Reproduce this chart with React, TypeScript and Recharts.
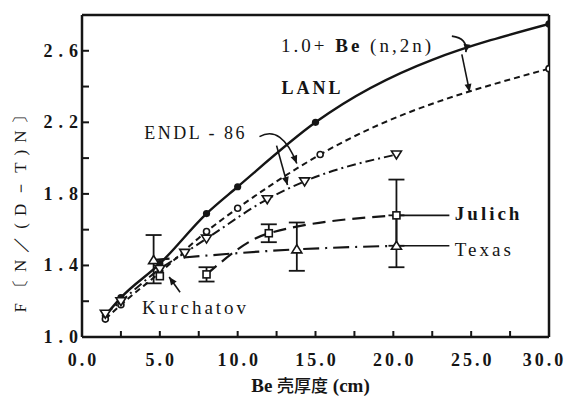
import React from 'react';
import { LineChart, Line, XAxis, YAxis, ErrorBar, ReferenceLine, ReferenceDot } from 'recharts';

// ---- data ----
const lanlX = [1.5, 2.5, 5.0, 8.0, 10.0, 15.0, 30.0];
const lanlY = [1.12, 1.22, 1.41, 1.69, 1.84, 2.2, 2.75];

const endlX = [1.5, 2.5, 5.0, 8.0, 10.0, 15.3, 30.0];
const endlY = [1.1, 1.18, 1.36, 1.59, 1.72, 2.02, 2.5];

const calcX = [1.5, 2.5, 5.0, 6.6, 8.0, 11.9, 14.3, 20.2];
const calcY = [1.13, 1.2, 1.38, 1.47, 1.55, 1.77, 1.87, 2.02];

const julichX = [8.0, 12.0, 20.2];
const julichY = [1.35, 1.58, 1.68];
const julichErr = [[0.04, 0.04], [0.05, 0.05], [0.17, 0.2]];

const texasX = [4.6, 13.8, 20.2];
const texasY = [1.43, 1.49, 1.51];
const texasErr = [[0.13, 0.14], [0.12, 0.15], [0.12, 0.17]];

const kurX = [5.0];
const kurY = [1.34];

const xTicks = [0, 2.5, 5, 7.5, 10, 12.5, 15, 17.5, 20, 22.5, 25, 27.5, 30];
const xLabels = [0, 5, 10, 15, 20, 25, 30];
const yTicks = [1.0, 1.2, 1.4, 1.6, 1.8, 2.0, 2.2, 2.4, 2.6, 2.8];
const yLabels = [1.0, 1.4, 1.8, 2.2, 2.6];

const xTitleLatin = 'Be ';
const xTitleCJK = '壳厚度';
const xTitleUnit = ' (cm)';
const yTitle = 'F〔N／(D－T)N〕';

const mk = (xs: number[], ys: number[], errs?: number[][]) =>
  xs.map((x, i) => ({ x, y: ys[i], err: errs ? errs[i] : undefined }));

const lanlData = mk(lanlX, lanlY);
const endlData = mk(endlX, endlY);
const calcData = mk(calcX, calcY);
const julichData = mk(julichX, julichY, julichErr);
const texasData = mk(texasX, texasY, texasErr);
const kurData = mk(kurX, kurY);

const INK = '#151515';
const SERIF = 'Liberation Serif';
const CJK = 'Noto Sans CJK SC';

const has = (arr: number[], v: number) => arr.some((a) => Math.abs(a - v) < 1e-6);

const XTick = (p: any) => {
  const { x, y, payload } = p;
  const v = payload.value;
  const edge = Math.abs(v) < 1e-6 || Math.abs(v - 30) < 1e-6;
  const dx = Math.abs(v - 30) < 1e-6 ? -6 : 0;
  return (
    <g>
      {!edge && <line x1={x} x2={x} y1={y} y2={y - 6} stroke={INK} strokeWidth={2} />}
      {has(xLabels, v) && (
        <text x={x + dx + 1.5} y={y + 29} textAnchor="middle" fontFamily={SERIF} fontSize={18} fontWeight="bold" letterSpacing={3} fill={INK}>
          {v.toFixed(1)}
        </text>
      )}
    </g>
  );
};

const YTick = (p: any) => {
  const { x, y, payload } = p;
  const v = payload.value;
  const edge = Math.abs(v - 1.0) < 1e-6 || Math.abs(v - 2.8) < 1e-6;
  return (
    <g>
      {!edge && <line x1={x} x2={x + 7} y1={y} y2={y} stroke={INK} strokeWidth={2} />}
      {has(yLabels, v) && (
        <text x={x + 2} y={y + 6} textAnchor="end" fontFamily={SERIF} fontSize={18} fontWeight="bold" letterSpacing={6} fill={INK}>
          {v.toFixed(1)}
        </text>
      )}
    </g>
  );
};

const filledDot = (p: any) => <circle key={p.index} cx={p.cx} cy={p.cy} r={3.6} fill={INK} />;
const openDot = (p: any) => <circle key={p.index} cx={p.cx} cy={p.cy} r={3} fill="#fff" stroke={INK} strokeWidth={1.6} />;
const downTri = (p: any) => (
  <polygon key={p.index} points={`${p.cx - 5},${p.cy - 3.5} ${p.cx + 5},${p.cy - 3.5} ${p.cx},${p.cy + 4.5}`} fill="#fff" stroke={INK} strokeWidth={1.6} />
);
const upTri = (p: any) => (
  <polygon key={p.index} points={`${p.cx - 5},${p.cy + 3.5} ${p.cx + 5},${p.cy + 3.5} ${p.cx},${p.cy - 4.5}`} fill="#fff" stroke={INK} strokeWidth={1.6} />
);
const square = (p: any) => (
  <rect key={p.index} x={p.cx - 3.5} y={p.cy - 3.5} width={7} height={7} fill="#fff" stroke={INK} strokeWidth={1.6} />
);

const arrow = (cdx?: number, cdy?: number, head = true) => (p: any) => {
  const { x1, y1, x2, y2 } = p;
  const curved = cdx !== undefined && cdy !== undefined;
  const cx = curved ? x1 + (cdx as number) : x1;
  const cy = curved ? y1 + (cdy as number) : y1;
  const ang = Math.atan2(y2 - cy, x2 - cx);
  const L = 8;
  const W = 3.5;
  const bx = x2 - L * Math.cos(ang);
  const by = y2 - L * Math.sin(ang);
  const px = -Math.sin(ang) * W;
  const py = Math.cos(ang) * W;
  const d = curved ? `M${x1},${y1} Q${cx},${cy} ${x2},${y2}` : `M${x1},${y1} L${x2},${y2}`;
  return (
    <g>
      <path d={d} fill="none" stroke={INK} strokeWidth={1.6} />
      {head && <polygon points={`${x2},${y2} ${bx + px},${by + py} ${bx - px},${by - py}`} fill={INK} />}
    </g>
  );
};

const textAt = (content: React.ReactNode, opts: any) => (p: any) => (
  <text
    x={p.cx}
    y={p.cy}
    dominantBaseline="central"
    textAnchor={opts.anchor || 'middle'}
    fontFamily={SERIF}
    fontSize={opts.size || 17}
    fontWeight={opts.weight || 'normal'}
    letterSpacing={opts.ls || 0}
    fill={INK}
  >
    {content}
  </text>
);

export default function App() {
  return (
    <div style={{ position: 'absolute', left: 0, top: 0, background: '#fff' }}>
      <LineChart width={569} height={403} margin={{ top: 15, right: 20, bottom: 26, left: 22 }}>
        <XAxis
          dataKey="x"
          type="number"
          domain={[0, 30]}
          ticks={xTicks}
          interval={0}
          allowDataOverflow
          tickSize={0}
          tickMargin={0}
          tickLine={false}
          tick={XTick}
          height={40}
          axisLine={{ stroke: INK, strokeWidth: 2.5 }}
          label={{
            content: (lp: any) => {
              const vb = lp.viewBox;
              return (
                <text x={vb.x + vb.width / 2 - 5} y={vb.y + 55} textAnchor="middle" fontFamily={SERIF} fontSize={19} fontWeight="bold" fill={INK}>
                  <tspan>{xTitleLatin}</tspan>
                  <tspan fontFamily={CJK} fontSize={17} fontWeight={500}>{xTitleCJK}</tspan>
                  <tspan>{xTitleUnit}</tspan>
                </text>
              );
            },
          }}
        />
        <YAxis
          dataKey="y"
          type="number"
          domain={[1.0, 2.8]}
          ticks={yTicks}
          interval={0}
          allowDataOverflow
          tickSize={0}
          tickMargin={0}
          tickLine={false}
          tick={YTick}
          width={60}
          axisLine={{ stroke: INK, strokeWidth: 2.5 }}
          label={{
            content: (lp: any) => {
              const vb = lp.viewBox;
              const cx = vb.x - 2;
              const cy = vb.y + vb.height / 2 + 30;
              return (
                <text x={cx} y={cy} transform={`rotate(-90 ${cx} ${cy})`} textAnchor="middle" dominantBaseline="central" fontFamily={SERIF} fontSize={17} letterSpacing={7} fill={INK}>
                  {yTitle}
                </text>
              );
            },
          }}
        />
        <ReferenceLine y={2.8} stroke={INK} strokeWidth={2.5} />
        <ReferenceLine x={30} stroke={INK} strokeWidth={2.5} />

        <Line data={lanlData} dataKey="y" type="monotone" stroke={INK} strokeWidth={2.4} dot={filledDot} isAnimationActive={false} />
        <Line data={endlData} dataKey="y" type="monotone" stroke={INK} strokeWidth={2} strokeDasharray="6 4" dot={openDot} isAnimationActive={false} />
        <Line data={calcData} dataKey="y" type="monotone" stroke={INK} strokeWidth={2} strokeDasharray="9 4 2 4" dot={downTri} isAnimationActive={false} />
        <Line data={julichData} dataKey="y" type="monotone" stroke={INK} strokeWidth={2.2} strokeDasharray="13 7" dot={square} isAnimationActive={false}>
          <ErrorBar dataKey="err" width={8} stroke={INK} strokeWidth={1.8} direction="y" />
        </Line>
        <Line data={texasData} dataKey="y" type="monotone" stroke={INK} strokeWidth={2.2} strokeDasharray="16 6 2 6" dot={upTri} isAnimationActive={false}>
          <ErrorBar dataKey="err" width={8} stroke={INK} strokeWidth={1.8} direction="y" />
        </Line>
        <Line data={kurData} dataKey="y" stroke={INK} strokeWidth={0} dot={square} isAnimationActive={false} />

        {/* annotations */}
        <ReferenceLine segment={[{ x: 23.76, y: 2.682 }, { x: 24.66, y: 2.592 }]} shape={arrow(16, 2)} />
        <ReferenceLine segment={[{ x: 24.4, y: 2.58 }, { x: 24.9, y: 2.37 }]} shape={arrow()} />
        <ReferenceLine segment={[{ x: 11.4, y: 2.12 }, { x: 13.8, y: 1.97 }]} shape={arrow(22, -12)} />
        <ReferenceLine segment={[{ x: 12.5, y: 2.07 }, { x: 13.2, y: 1.85 }]} shape={arrow()} />
        <ReferenceLine segment={[{ x: 6.3, y: 1.25 }, { x: 5.6, y: 1.335 }]} shape={arrow()} />
        <ReferenceLine segment={[{ x: 20.2, y: 1.68 }, { x: 23.6, y: 1.68 }]} shape={arrow(undefined, undefined, false)} />
        <ReferenceLine segment={[{ x: 20.2, y: 1.51 }, { x: 23.6, y: 1.51 }]} shape={arrow(undefined, undefined, false)} />

        <ReferenceDot
          x={17.7}
          y={2.63}
          r={0}
          shape={textAt(
            <>
              <tspan>1.0+ </tspan>
              <tspan fontWeight="bold">Be</tspan>
              <tspan> (n,2n)</tspan>
            </>,
            { size: 19, ls: 3 }
          )}
        />
        <ReferenceDot x={14.8} y={2.39} r={0} shape={textAt('LANL', { size: 18, weight: 'bold', ls: 3 })} />
        <ReferenceDot x={7.3} y={2.14} r={0} shape={textAt('ENDL - 86', { size: 18, ls: 2.5 })} />
        <ReferenceDot x={23.95} y={1.69} r={0} shape={textAt('Julich', { size: 19, weight: 'bold', ls: 3, anchor: 'start' })} />
        <ReferenceDot x={23.95} y={1.49} r={0} shape={textAt('Texas', { size: 19, ls: 3, anchor: 'start' })} />
        <ReferenceDot x={3.85} y={1.165} r={0} shape={textAt('Kurchatov', { size: 19, ls: 3, anchor: 'start' })} />
      </LineChart>
    </div>
  );
}
